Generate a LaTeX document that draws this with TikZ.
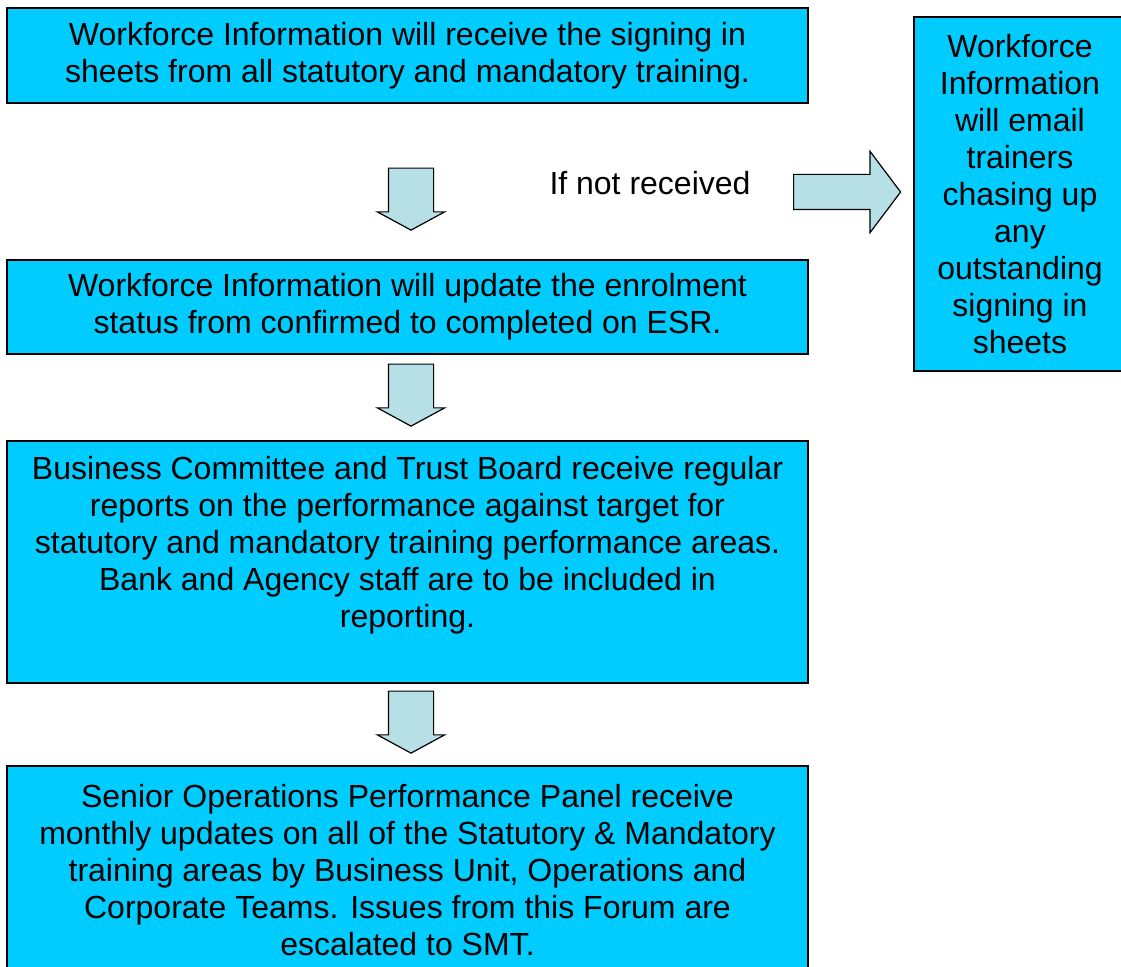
\documentclass[tikz,border=0pt]{standalone}
\usepackage{fontspec}
\setmainfont{Liberation Sans}
\usetikzlibrary{shapes.arrows}
\usepackage{color}
\definecolor{box_blue}{RGB}{0, 204, 255}
\definecolor{arrow_blue}{RGB}{183, 224, 230}

\tikzset{
    infobox/.style={shape=rectangle, draw=black, line width=0.8pt, fill=box_blue, align=center, inner sep=0pt},
    downarrow/.style={single arrow, draw=black, line width=0.6pt, fill=arrow_blue, inner xsep=0pt, inner ysep=11pt,
        minimum height=31pt, single arrow head extend=5.5pt,
        single arrow tip angle=123, rotate=-90}
}

\begin{document}
\begin{tikzpicture}[x=0.5pt, y=-0.5pt, font=\fontsize{16}{18.5}\selectfont]
    \useasboundingbox (0,0) rectangle (1121,967);

        \node[infobox, minimum width=400.5pt, minimum height=47.5pt] (receive) at (407.5,55.5)
            {Workforce Information will receive the signing in\\ sheets from all statutory and mandatory training.};
        \node[infobox, minimum width=400.5pt, minimum height=47pt] (update) at (407.5,307)
            {Workforce Information will update the enrolment\\ status from confirmed to completed on ESR.};
        \node[infobox, minimum width=400.5pt, minimum height=121pt] (report) at (407.5,562) {};
        \node[align=center] (reporttext) at (407.5,545)
            {Business Committee and Trust Board receive regular\\ reports on the performance against target for\\ statutory and mandatory training performance areas.\\ Bank and Agency staff are to be included in\\ reporting.};
        \node[infobox, minimum width=400.5pt, minimum height=104pt] (panel) at (407.5,870)
            {Senior Operations Performance Panel receive\\ monthly updates on all of the Statutory \& Mandatory\\ training areas by Business Unit, Operations and\\ Corporate Teams. Issues from this Forum are\\ escalated to SMT.};
        \node[infobox, minimum width=106pt, minimum height=177pt] (chase) at (1020,194)
            {Workforce\\ Information\\ will email\\ trainers\\ chasing up\\ any\\ outstanding\\ signing in\\ sheets};

        \node (missing) at (650,183) {If not received};

    % block arrows between the steps
        \node[downarrow] (step1) at (411,193) {};
        \node[downarrow] (step2) at (411,389) {};
        \node[downarrow] (step3) at (411,716) {};
        \node[single arrow, draw=black, line width=0.6pt, fill=arrow_blue, inner xsep=0pt, inner ysep=8.5pt,
            minimum height=53.5pt, single arrow head extend=11.5pt,
            single arrow tip angle=106] (chaseup) at (840.5,192) {};

\end{tikzpicture}
\end{document}
